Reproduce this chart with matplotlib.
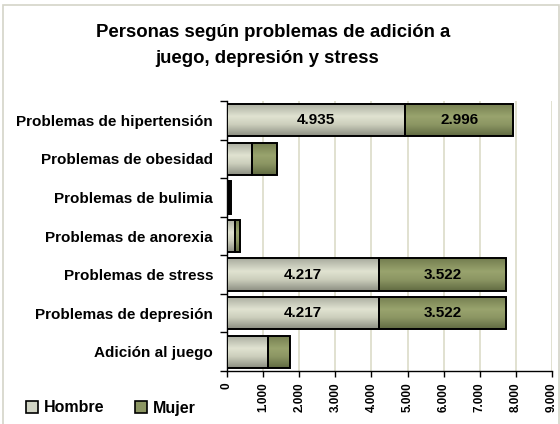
import numpy as np
import matplotlib
matplotlib.use("Agg")
import matplotlib.pyplot as plt
from matplotlib.patches import Rectangle, Patch
from matplotlib.ticker import FuncFormatter, MultipleLocator, FixedLocator

plt.rcParams['font.family'] = ['Liberation Sans', 'DejaVu Sans']
plt.rcParams['font.weight'] = 'bold'

# data
categorias = ["Problemas de hipertensión", "Problemas de obesidad", "Problemas de bulimia",
              "Problemas de anorexia", "Problemas de stress", "Problemas de depresión",
              "Adición al juego"]
hombre = [4935, 690, 60, 210, 4217, 4217, 1135]
mujer = [2996, 695, 50, 140, 3522, 3522, 600]
etiquetas = [True, False, False, False, True, True, False]
series = ["Hombre", "Mujer"]

# vertical colour ramps (top -> bottom) for the bar fills
ramp_hombre = [(0.0, (0.66, 0.67, 0.62)), (0.40, (0.88, 0.89, 0.82)),
               (0.65, (0.80, 0.81, 0.74)), (1.0, (0.55, 0.56, 0.51))]
ramp_mujer = [(0.0, (0.45, 0.49, 0.31)), (0.40, (0.60, 0.64, 0.43)),
              (0.65, (0.55, 0.59, 0.39)), (1.0, (0.38, 0.42, 0.26))]


def make_ramp(stops, n=64):
    t = np.linspace(0, 1, n)
    pos = [s[0] for s in stops]
    rgb = np.array([s[1] for s in stops])
    img = np.stack([np.interp(t, pos, rgb[:, k]) for k in range(3)], axis=1)
    return img[:, None, :]


fig = plt.figure(figsize=(5.6, 4.24), dpi=100)
W, H = 560, 424

# outer chart frame
fig.patches.append(Rectangle((3 / W, -0.05), 556 / W, 1 - 5 / H + 0.05,
                             transform=fig.transFigure, fill=False,
                             edgecolor='#d4d4c8', linewidth=1.2))

ax = fig.add_axes([227 / W, 1 - 371 / H, 325 / W, 270 / H])

y = np.arange(len(categorias))
alto = 0.84
b1 = ax.barh(y, hombre, height=alto, facecolor='none', edgecolor='black', linewidth=1.4, zorder=4)
b2 = ax.barh(y, mujer, left=hombre, height=alto, facecolor='none', edgecolor='black', linewidth=1.4, zorder=4)

# gradient fill clipped to each bar
for bars, ramp in [(b1, ramp_hombre), (b2, ramp_mujer)]:
    img = make_ramp(ramp)
    for p in bars:
        x0, y0 = p.get_x(), p.get_y()
        w, h = p.get_width(), p.get_height()
        im = ax.imshow(img, extent=(x0, x0 + w, y0 + h, y0), origin='upper',
                       aspect='auto', zorder=3, interpolation='bilinear')
        im.set_clip_path(p)

# value labels
for i, mostrar in enumerate(etiquetas):
    if mostrar:
        ax.text(hombre[i] / 2, y[i], f"{hombre[i]:,}".replace(',', '.'),
                ha='center', va='center', fontsize=11, fontweight='bold', zorder=5)
        ax.text(hombre[i] + mujer[i] / 2, y[i], f"{mujer[i]:,}".replace(',', '.'),
                ha='center', va='center', fontsize=11, fontweight='bold', zorder=5)

ax.set_xlim(0, 9000)
ax.set_ylim(len(categorias) - 0.5, -0.5)

ax.xaxis.set_major_locator(MultipleLocator(1000))
ax.xaxis.set_major_formatter(FuncFormatter(lambda v, p: f"{v:,.0f}".replace(',', '.')))
ax.grid(axis='x', color='#dcdcc8', linewidth=1.2, zorder=0)
ax.set_axisbelow(True)

ax.set_yticks(y)
ax.set_yticklabels(categorias, fontsize=11, fontweight='bold')
ax.yaxis.set_minor_locator(FixedLocator(np.arange(-0.5, len(categorias), 1.0)))
ax.tick_params(axis='y', which='major', length=0, pad=10)
ax.tick_params(axis='y', which='minor', length=5, width=1, color='black')
ax.tick_params(axis='x', which='major', length=4, width=1, direction='out',
               labelsize=8.5, labelrotation=90, pad=4)
for t in ax.get_xticklabels():
    t.set_fontweight('bold')

for s in ['top', 'right']:
    ax.spines[s].set_visible(False)
ax.spines['left'].set_linewidth(1)
ax.spines['bottom'].set_linewidth(1)

# title
fig.text(273 / W, 1 - 37 / H, "Personas según problemas de adición a",
         ha='center', va='baseline', fontsize=13.4, fontweight='bold')
fig.text(267 / W, 1 - 63 / H, "juego, depresión y stress",
         ha='center', va='baseline', fontsize=13.4, fontweight='bold')

# legend
handles = [Patch(facecolor=(0.82, 0.83, 0.77), edgecolor='black', linewidth=1.2),
           Patch(facecolor=(0.55, 0.59, 0.39), edgecolor='black', linewidth=1.2)]
fig.legend(handles, series, loc='center left', bbox_to_anchor=(20 / W, 1 - 408 / H),
           ncol=2, frameon=False, handlelength=0.75, handleheight=0.75,
           handletextpad=0.35, columnspacing=1.9, borderaxespad=0,
           prop={'weight': 'bold', 'size': 11.5})

fig.savefig("out.png", dpi=100)
